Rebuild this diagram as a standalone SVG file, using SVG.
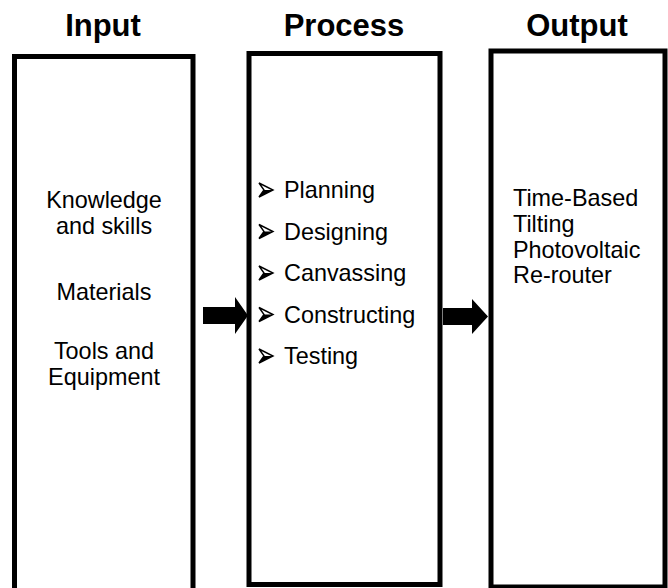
<svg xmlns="http://www.w3.org/2000/svg" width="668" height="588" viewBox="0 0 668 588">
<style>
.box{fill:#fff;stroke:#000;stroke-width:5}
.title{font-family:"Liberation Sans",Arial,sans-serif;font-weight:bold;font-size:31px;fill:#000;text-anchor:middle}
.t{font-family:"Liberation Sans",Arial,sans-serif;font-size:23.4px;fill:#000}
.c{text-anchor:middle}
.arrow{fill:#000}
.bul{fill:#fff;stroke:#000;stroke-width:1.4;stroke-linejoin:miter}
</style>
<defs>
<g id="bullet">
<path class="bul" d="M0,0 L14,7 L0,14 L5,7 Z"/>
<path d="M14,7 L0,14 L5,7 Z" fill="#000"/>
</g>
</defs>
<rect width="668" height="588" fill="#fff"/>
<g id="input">
<text class="title" x="103" y="36">Input</text>
<path class="box" d="M14.5,600 V56.5 H193 V600"/>
<text class="t c" x="104" y="208">Knowledge</text>
<text class="t c" x="104" y="234">and skills</text>
<text class="t c" x="104" y="300">Materials</text>
<text class="t c" x="104" y="359">Tools and</text>
<text class="t c" x="104" y="385">Equipment</text>
</g>
<g id="process">
<text class="title" x="344" y="36">Process</text>
<rect class="box" x="249" y="53.5" width="191" height="531"/>
<use href="#bullet" x="259" y="183"/>
<text class="t" x="284" y="198">Planning</text>
<use href="#bullet" x="259" y="224.5"/>
<text class="t" x="284" y="239.5">Designing</text>
<use href="#bullet" x="259" y="266"/>
<text class="t" x="284" y="281">Canvassing</text>
<use href="#bullet" x="259" y="307.5"/>
<text class="t" x="284" y="322.5">Constructing</text>
<use href="#bullet" x="259" y="349"/>
<text class="t" x="284" y="364">Testing</text>
</g>
<g id="output">
<text class="title" x="577" y="36">Output</text>
<rect class="box" x="491" y="51" width="174" height="536"/>
<text class="t" x="513" y="206">Time-Based</text>
<text class="t" x="513" y="232">Tilting</text>
<text class="t" x="513" y="258">Photovoltaic</text>
<text class="t" x="513" y="283">Re-router</text>
</g>
<g id="connectors">
<path class="arrow" d="M203,307 H235 V297 L248,315.5 L235,334 V324 H203 Z"/>
<path class="arrow" d="M443,308 H472 V299 L488,316.5 L472,334 V325 H443 Z"/>
</g>
</svg>
